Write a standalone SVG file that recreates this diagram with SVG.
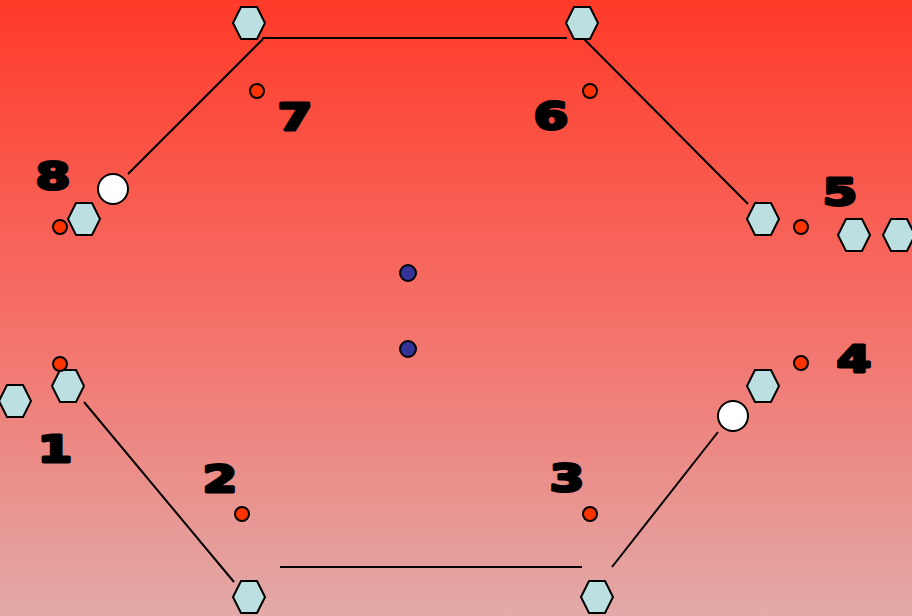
<svg xmlns="http://www.w3.org/2000/svg" width="912" height="616" viewBox="0 0 912 616">
<defs>
<linearGradient id="bg" x1="0" y1="0" x2="0" y2="1">
<stop offset="0" stop-color="#FF3A28"/>
<stop offset="0.5" stop-color="#F56E66"/>
<stop offset="1" stop-color="#E2AAA8"/>
</linearGradient>
<polygon id="hex" points="-16,0 -8,-16 8,-16 16,0 8,16 -8,16"/>
</defs>
<style>
.hex{fill:#BCDFE2;stroke:#000;stroke-width:2}
.red{fill:#FF3300;stroke:#000;stroke-width:2}
.wht{fill:#fff;stroke:#000;stroke-width:2}
.blu{fill:#333399;stroke:#000;stroke-width:2}
.lbl{font-family:"DejaVu Sans",sans-serif;font-weight:bold;font-size:38px;fill:#000;stroke:#000;stroke-width:3;stroke-linejoin:round;text-anchor:middle}
.ln{stroke:#000;stroke-width:2;fill:none}
</style>
<rect width="912" height="616" fill="url(#bg)"/>
<g id="connectors">
<line class="ln" x1="262" y1="38" x2="567" y2="38"/>
<line class="ln" x1="263" y1="39" x2="128" y2="174"/>
<line class="ln" x1="583" y1="38" x2="748" y2="204"/>
<line class="ln" x1="84" y1="402" x2="234" y2="582"/>
<line class="ln" x1="280" y1="567" x2="582" y2="567"/>
<line class="ln" x1="612" y1="567" x2="718" y2="432"/>
</g>
<g id="hexagons">
<use href="#hex" class="hex" x="249" y="23"/>
<use href="#hex" class="hex" x="582" y="23"/>
<use href="#hex" class="hex" x="84" y="219"/>
<use href="#hex" class="hex" x="763" y="219"/>
<use href="#hex" class="hex" x="854" y="235"/>
<use href="#hex" class="hex" x="899" y="235"/>
<use href="#hex" class="hex" x="15" y="401"/>
<use href="#hex" class="hex" x="68" y="386"/>
<use href="#hex" class="hex" x="763" y="386"/>
<use href="#hex" class="hex" x="249" y="597"/>
<use href="#hex" class="hex" x="597" y="597"/>
</g>
<g id="node-7"><circle class="red" cx="257" cy="91" r="7"/><text class="lbl" transform="translate(295,130) scale(1.3,1)">7</text></g>
<g id="node-6"><circle class="red" cx="590" cy="91" r="7"/><text class="lbl" transform="translate(551,129) scale(1.3,1)">6</text></g>
<g id="node-8"><circle class="red" cx="60" cy="227" r="7"/><text class="lbl" transform="translate(53,189) scale(1.3,1)">8</text></g>
<g id="node-5"><circle class="red" cx="801" cy="227" r="7"/><text class="lbl" transform="translate(840,205) scale(1.3,1)">5</text></g>
<g id="node-4"><circle class="red" cx="801" cy="363" r="7"/><text class="lbl" transform="translate(854,372) scale(1.3,1)">4</text></g>
<g id="node-1"><circle class="red" cx="60" cy="364" r="7"/><text class="lbl" transform="translate(55,462) scale(1.3,1)">1</text></g>
<g id="node-2"><circle class="red" cx="242" cy="514" r="7"/><text class="lbl" transform="translate(220,492) scale(1.3,1)">2</text></g>
<g id="node-3"><circle class="red" cx="590" cy="514" r="7"/><text class="lbl" transform="translate(567,491) scale(1.3,1)">3</text></g>
<g id="white-a"><circle class="wht" cx="113" cy="189" r="15"/></g>
<g id="white-b"><circle class="wht" cx="733" cy="416" r="15"/></g>
<g id="center-a"><circle class="blu" cx="408" cy="273" r="8"/></g>
<g id="center-b"><circle class="blu" cx="408" cy="349" r="8"/></g>
</svg>
